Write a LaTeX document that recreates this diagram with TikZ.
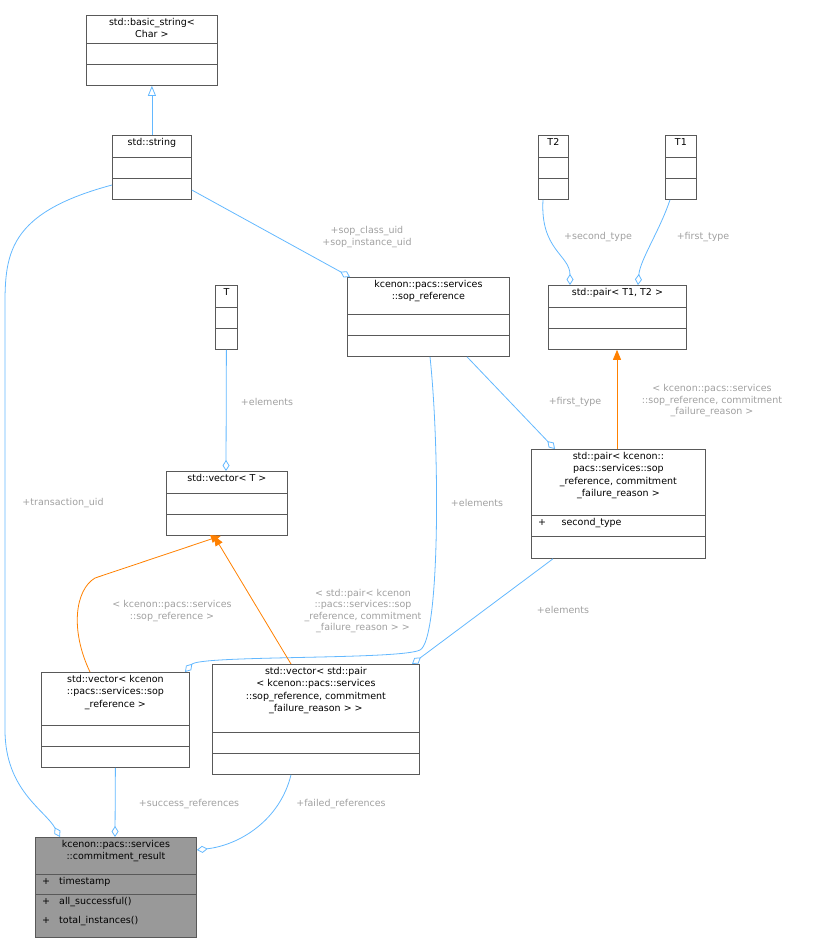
\documentclass[tikz,border=0pt]{standalone}
\usepackage{fontspec}
\setmainfont{DejaVu Sans}
\usetikzlibrary{arrows.meta,positioning}
\definecolor{edgeblue}{HTML}{63B8FF}
\definecolor{lblgray}{HTML}{A0A0A0}
\tikzset{
  box/.style={draw=black!65, line width=0.8pt, fill=white, inner sep=0pt, anchor=north west},
  title/.style={anchor=north, align=center, font=\fontsize{9.5}{12.5}\selectfont, inner sep=3pt},
  lbl/.style={text=lblgray, align=center, font=\fontsize{9.5}{11.5}\selectfont},
  uses/.style={draw=edgeblue, line width=0.8pt, -{Diamond[open, length=11pt, width=7pt]}},
  tmpl/.style={draw=orange, line width=0.8pt, -{Triangle[length=10pt, width=8pt, fill=orange]}},
  inh/.style={draw=edgeblue, line width=0.8pt, -{Triangle[open, length=10pt, width=8pt]}},
  sep/.style={draw=black!65, line width=0.8pt},
}
\begin{document}
\begin{tikzpicture}[x=1pt, y=-1pt]
    \useasboundingbox (0,0) rectangle (816,943);

    % Class boxes
    \node[box, minimum width=131pt, minimum height=70pt] (bstr) at (86,15) {};
    \node[title] at (bstr.north) {std::basic\_string<\\Char >};
    \draw[sep] (86,43) -- (217,43) (86,64) -- (217,64);

    \node[box, minimum width=79pt, minimum height=64pt] (str) at (112,135) {};
    \node[title] at (str.north) {std::string};
    \draw[sep] (112,157) -- (191,157) (112,178) -- (191,178);

    \node[box, minimum width=30pt, minimum height=64pt] (t2) at (538,135) {};
    \node[title] at (t2.north) {T2};
    \draw[sep] (538,157) -- (568,157) (538,178) -- (568,178);

    \node[box, minimum width=31pt, minimum height=64pt] (t1) at (665,135) {};
    \node[title] at (t1.north) {T1};
    \draw[sep] (665,157) -- (696,157) (665,178) -- (696,178);

    \node[box, minimum width=22pt, minimum height=64pt] (t) at (215,285) {};
    \node[title] at (t.north) {T};
    \draw[sep] (215,307) -- (237,307) (215,328) -- (237,328);

    \node[box, minimum width=162pt, minimum height=79pt] (sref) at (347,277) {};
    \node[title] at (sref.north) {kcenon::pacs::services\\::sop\_reference};
    \draw[sep] (347,314) -- (509,314) (347,335) -- (509,335);

    \node[box, minimum width=138pt, minimum height=64pt] (pairt) at (548,285) {};
    \node[title] at (pairt.north) {std::pair< T1, T2 >};
    \draw[sep] (548,307) -- (686,307) (548,328) -- (686,328);

    \node[box, minimum width=121pt, minimum height=64pt] (vect) at (166,471) {};
    \node[title] at (vect.north) {std::vector< T >};
    \draw[sep] (166,493) -- (287,493) (166,514) -- (287,514);

    \node[box, minimum width=174pt, minimum height=109pt] (pairk) at (531,449) {};
    \node[title] at (pairk.north) {std::pair< kcenon::\\pacs::services::sop\\\_reference, commitment\\\_failure\_reason >};
    \draw[sep] (531,515) -- (705,515) (531,536) -- (705,536);
    \node[title, anchor=north west] at (535,515) {+\quad\ \ second\_type};

    \node[box, minimum width=148pt, minimum height=95pt] (vecs) at (41,672) {};
    \node[title] at (vecs.north) {std::vector< kcenon\\::pacs::services::sop\\\_reference >};
    \draw[sep] (41,725) -- (189,725) (41,746) -- (189,746);

    \node[box, minimum width=207pt, minimum height=110pt] (vecp) at (212,664) {};
    \node[title] at (vecp.north) {std::vector< std::pair\\< kcenon::pacs::services\\::sop\_reference, commitment\\\_failure\_reason > >};
    \draw[sep] (212,732) -- (419,732) (212,753) -- (419,753);

    \node[box, fill=black!40, minimum width=161pt, minimum height=100pt] (res) at (35,837) {};
    \node[title] at (res.north) {kcenon::pacs::services\\::commitment\_result};
    \draw[sep] (35,874) -- (196,874) (35,894) -- (196,894);
    \node[title, anchor=north west] at (39,874) {+\ \ \ timestamp};
    \node[title, anchor=north west, align=left, font=\fontsize{9.5}{19}\selectfont] at (39,894) {+\ \ \ all\_successful()\\+\ \ \ total\_instances()};

    % Connectors
    \draw[inh] (str.north) -- (bstr.south);
    \draw[uses] ([yshift=-50pt]str.north west) .. controls (0,215) and (5,260) .. (5,320)
        -- (5,730) .. controls (5,790) and (45,810) .. ([xshift=25pt]res.north west);
    \draw[uses] ([yshift=-55pt]str.north east) -- ([xshift=3pt]sref.north west);
    \draw[uses] ([xshift=5pt]t2.south west) .. controls (540,250) and (570,255) .. ([xshift=22pt]pairt.north west);
    \draw[uses] ([xshift=5pt]t1.south west) .. controls (660,230) and (640,260) .. ([xshift=90pt]pairt.north west);
    \draw[uses] (t.south) -- ([xshift=60pt]vect.north west);
    \draw[uses] ([xshift=120pt]sref.south west) -- ([xshift=24pt]pairk.north west);
    \draw[tmpl] ([xshift=86pt]pairk.north west) -- ([xshift=69pt]pairt.south west);
    \draw[uses] ([xshift=83pt]sref.south west) .. controls (440,450) and (440,640) .. (420,650)
        .. controls (400,660) and (200,655) .. ([xshift=144pt]vecs.north west);
    \draw[uses] ([xshift=22pt]pairk.south west) -- ([xshift=200pt]vecp.north west);
    \draw[tmpl] ([xshift=49pt]vecs.north west) .. controls (70,630) and (75,590) .. (95,578)
        -- ([xshift=-6pt]vect.south);
    \draw[tmpl] ([xshift=79pt]vecp.north west) -- ([xshift=-13pt]vect.south);
    \draw[uses] (vecs.south) -- ([xshift=80pt]res.north west);
    \draw[uses] ([xshift=79pt]vecp.south west) .. controls (280,820) and (240,845) .. ([yshift=-13pt]res.north east);

    % Labels
    \node[lbl] (l1) at (63,503) {+transaction\_uid};
    \node[lbl] (l2) at (367,237) {+sop\_class\_uid\\+sop\_instance\_uid};
    \node[lbl] (l3) at (598,237) {+second\_type};
    \node[lbl] (l4) at (703,237) {+first\_type};
    \node[lbl] (l5) at (267,402) {+elements};
    \node[lbl] (l6) at (575,402) {+first\_type};
    \node[lbl] (l7) at (712,401) {< kcenon::pacs::services\\::sop\_reference, commitment\\\_failure\_reason >};
    \node[lbl] (l8) at (477,503) {+elements};
    \node[lbl] (l9) at (563,610) {+elements};
    \node[lbl] (l10) at (172,611) {< kcenon::pacs::services\\::sop\_reference >};
    \node[lbl] (l11) at (363,611) {< std::pair< kcenon\\::pacs::services::sop\\\_reference, commitment\\\_failure\_reason > >};
    \node[lbl] (l12) at (189,804) {+success\_references};
    \node[lbl] (l13) at (341,804) {+failed\_references};
\end{tikzpicture}
\end{document}
